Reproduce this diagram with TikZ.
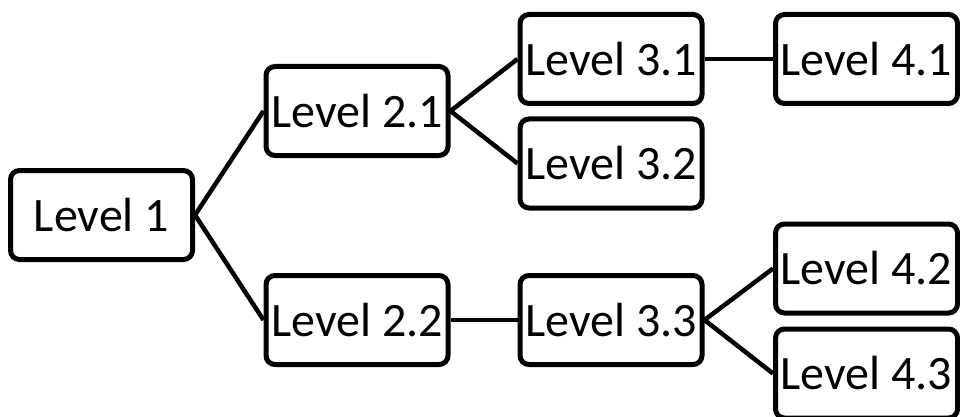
\documentclass[tikz,border=0pt]{standalone}
\usepackage{fontspec}
\setmainfont{Carlito}
\begin{document}
\begin{tikzpicture}[x=1pt,y=-1pt,
  box/.style={draw=black,line width=5pt,rounded corners=9pt,minimum width=182pt,minimum height=89pt,inner sep=0pt,font=\fontsize{48}{50}\selectfont,fill=white},
  link/.style={line width=4.5pt}]
\useasboundingbox (0,0) rectangle (960,417);
\node[box] (l1) at (101.5,215) {Level 1};
\node[box] (l21) at (357,111) {Level 2.1};
\node[box] (l22) at (357,320) {Level 2.2};
\node[box] (l31) at (611,59) {Level 3.1};
\node[box] (l32) at (611,163.5) {Level 3.2};
\node[box] (l33) at (611,320) {Level 3.3};
\node[box] (l41) at (866.5,59) {Level 4.1};
\node[box] (l42) at (866.5,268.5) {Level 4.2};
\node[box] (l43) at (866.5,373.5) {Level 4.3};
\draw[link] (l1.east) -- (l21.west);
\draw[link] (l1.east) -- (l22.west);
\draw[link] (l21.east) -- (l31.west);
\draw[link] (l21.east) -- (l32.west);
\draw[link] (l31.east) -- (l41.west);
\draw[link] (l22.east) -- (l33.west);
\draw[link] (l33.east) -- (l42.west);
\draw[link] (l33.east) -- (l43.west);
\end{tikzpicture}
\end{document}
